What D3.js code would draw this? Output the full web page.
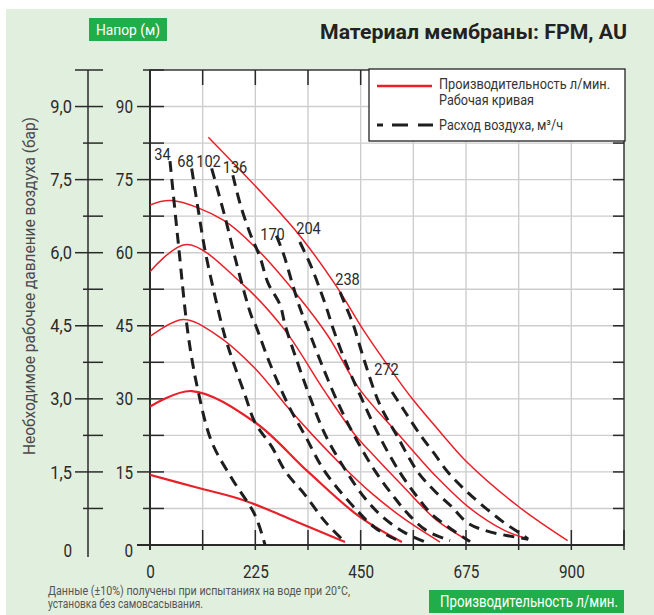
<!DOCTYPE html>
<html><head><meta charset="utf-8">
<script src="https://cdn.jsdelivr.net/npm/d3@7"></script>
<style>
html,body{margin:0;padding:0;background:#fff;}
svg{display:block;}
text{font-family:Roboto,"Liberation Sans",sans-serif;}
</style></head><body>
<svg id="chart" width="654" height="615"></svg>
<script>
// ---------- texts ----------
const titleText = "Материал мембраны: FPM, AU";
const headLabel = "Напор (м)";
const flowLabel = "Производительность л/мин.";
const yTitle = "Необходимое рабочее давление воздуха (бар)";
const legendPerf = ["Производительность л/мин.", "Рабочая кривая"];
const legendAir = "Расход воздуха, м³/ч";
const noteLines = ["Данные (±10%) получены при испытаниях на воде при 20°C,", "установка без самовсасывания."];

// ---------- axes ----------
const xTicks = [0, 225, 450, 675, 900];
const headTicks = [0, 15, 30, 45, 60, 75, 90];
const barTicks = ["0", "1,5", "3,0", "4,5", "6,0", "7,5", "9,0"];

// ---------- performance curves [flow l/min, head m] ----------
const perf1 = [[0,14.4],[100,11.8],[200,9.2],[300,5.3],[416.6,0.6]];
const perf2 = [[0,28.4],[89,31.6],[224,25.2],[338,15.0],[449,5.7],[538,0.6]];
const perf3 = [[0,42.8],[71,46.3],[142.5,43.1],[224,36.3],[295.5,28.1],[348,22.5],[416.6,15.7],[470,10.9],[541,5.5],[619.5,0.6]];
const perf4 = [[0,56.1],[78,61.7],[196,53.7],[288,44.1],[370,32],[438,22.6],[470,19.2],[541,12],[612,5.1],[683.6,0.7]];
const perf5 = [[0,69.8],[46,70.7],[156.6,66.7],[231,60.5],[317,51],[381,42.8],[446,32.2],[533,22.5],[612,14],[684,7.5],[755,3.1],[808,1.2]];
const perf6 = [[124.6,83.7],[313,64.3],[399,53],[456,44.1],[530,33.9],[562,29.8],[626,22.5],[673,17.4],[787,7.9],[892,0.9]];

// ---------- air consumption curves (m³/h) [flow l/min, head m] ----------
const airLabels = ["34","68","102","136","170","204","238","272"];
const airLabelAt = [[26.7,79.0],[75.8,77.6],[125,77.6],[181.6,76.4],[261.7,62.6],[338.6,63.8],[421.9,53.4],[505.2,34.9]];
const air34  = [[42.7,78.8],[60.5,61.9],[82,42.8],[103,31.5],[131.7,21.2],[174.5,13.7],[224,6.2],[245.7,0]];
const air68  = [[89,77.3],[103,68.8],[117.5,60.5],[139,51],[160,42.8],[178,37.5],[203,30.8],[224,25.2],[260,20.2],[290,15.0],[331,10.3],[374,4.8],[416.6,0.6]];
const air102 = [[131.7,77.3],[160,67.4],[188.6,56.4],[217,46.9],[226,45],[255,37.5],[295.5,28.7],[331,22.5],[374,15],[445,6.8],[480,3.6],[515,1.6],[537.7,0.6]];
const air136 = [[177,75.9],[192,70.2],[213.6,64],[235,59.1],[252,53.8],[277.7,49.3],[289,45],[315,37.5],[343,30],[375,22.5],[420,15],[460,9.5],[500,5.5],[545,2.5],[591,0.5]];
const air170 = [[270,63.5],[286,59.5],[303,54],[319,49],[335,45],[365,37.5],[400,29.5],[436,22.5],[482,15],[520,10],[550,6.5],[590,3],[641,0.9]];
const air204 = [[320,62.2],[342,57.7],[363,52.5],[380,47.8],[389,45],[418,37.5],[450,30.5],[489,22.5],[533,15],[570,10],[600,6.5],[640,3.5],[683.6,0.7]];
const air238 = [[406,51.9],[427,47],[435,45],[459,37.5],[490,29],[527,22.5],[572,15],[607,11.2],[643,8],[679,4.5],[726,2.7],[808,1.2]];
const air272 = [[517,31.4],[545,27.3],[578,22.5],[604.6,19.1],[636,15.0],[670.8,11.5],[709.2,8.2],[752,4.9],[794.7,2.1],[807.5,1.2]];

const perfSeries = [perf1, perf2, perf3, perf4, perf5, perf6];
const airSeries = [air34, air68, air102, air136, air170, air204, air238, air272];

// ---------- layout ----------
const W = 654, H = 615;
const plot = {left:150, right:624, top:70, bottom:545};
const xMax = 1012.5, yMax = 97.5, xStep = 112.5, yStep = 7.5;

const svg = d3.select("#chart");
const x = d3.scaleLinear().domain([0, xMax]).range([plot.left, plot.right]);
const y = d3.scaleLinear().domain([0, yMax]).range([plot.bottom, plot.top]);

const green = "#22ad4b", bg = "#e1efdf", red = "#e8202a", ink = "#1e1e1e", axisInk = "#2a2a2a";

// background
svg.append("rect").attr("x",6).attr("y",9).attr("width",W-6).attr("height",H-9).attr("fill",bg);
svg.append("rect").attr("x",plot.left).attr("y",plot.top)
  .attr("width",plot.right-plot.left).attr("height",plot.bottom-plot.top).attr("fill","#fff");

// grid
const xGrid = d3.range(xStep, xMax - 1, xStep);
const yGrid = d3.range(yStep, yMax - 1, yStep);
const g = svg.append("g");
g.selectAll(".vg").data(xGrid).join("line")
  .attr("x1",d=>x(d)).attr("x2",d=>x(d)).attr("y1",plot.top).attr("y2",plot.bottom)
  .attr("stroke","#cdcdcd").attr("stroke-width",1.4);
g.selectAll(".hg").data(yGrid).join("line")
  .attr("y1",d=>y(d)).attr("y2",d=>y(d)).attr("x1",plot.left).attr("x2",plot.right)
  .attr("stroke","#cdcdcd").attr("stroke-width",1.4);

// tick marks
const tk = svg.append("g").attr("stroke",axisInk).attr("stroke-width",1.5);
tk.selectAll(".tt").data(xGrid).join("line")
  .attr("x1",d=>x(d)).attr("x2",d=>x(d)).attr("y1",plot.top).attr("y2",plot.top+15);
tk.selectAll(".bt").data(d3.range(xStep, xMax + 1, xStep)).join("line")
  .attr("x1",d=>x(d)).attr("x2",d=>x(d)).attr("y1",plot.bottom-15).attr("y2",plot.bottom+5);
tk.selectAll(".rt").data(yGrid).join("line")
  .attr("y1",d=>y(d)).attr("y2",d=>y(d)).attr("x1",plot.right-11).attr("x2",plot.right);
tk.selectAll(".lt").data(d3.range(yStep, yMax + 1, yStep)).join("line")
  .attr("y1",d=>y(d)).attr("y2",d=>y(d))
  .attr("x1",d=> d % 15 === 0 ? plot.left-13 : plot.left-7).attr("x2",plot.left+14);
// bar axis
const barX = 88;
tk.append("line").attr("x1",barX).attr("x2",barX).attr("y1",plot.top).attr("y2",plot.bottom+12);
tk.selectAll(".bar").data(d3.range(yStep, yMax + 1, yStep)).join("line")
  .attr("y1",d=>y(d)).attr("y2",d=>y(d))
  .attr("x1",d=> (d % 15 === 0 || d === yMax) ? barX-13 : barX-5).attr("x2",barX+15);

// frame
svg.append("rect").attr("x",plot.left).attr("y",plot.top)
  .attr("width",plot.right-plot.left).attr("height",plot.bottom-plot.top)
  .attr("fill","none").attr("stroke",axisInk).attr("stroke-width",1.4);
svg.append("line").attr("x1",plot.left-13).attr("x2",plot.right).attr("y1",plot.bottom).attr("y2",plot.bottom)
  .attr("stroke",axisInk).attr("stroke-width",2);
svg.append("line").attr("x1",plot.left).attr("x2",plot.left).attr("y1",plot.top).attr("y2",plot.bottom+5)
  .attr("stroke",axisInk).attr("stroke-width",2);

// axis labels via d3 axes
const digitW = 8.6, commaW = 4.5;
const tl = s => s.replace(/[^0-9]/g,"").length*digitW + s.replace(/[0-9]/g,"").length*commaW;

const xAxis = d3.axisBottom(x).tickValues(xTicks).tickSize(0).tickPadding(20).tickFormat(d3.format("d"));
const xa = svg.append("g").attr("transform",`translate(0,${plot.bottom})`).call(xAxis);
xa.select(".domain").remove();
xa.selectAll("text").attr("font-size",18).attr("fill","#2a2a2a").attr("font-family","Roboto")
  .attr("textLength",d=>tl(String(d))).attr("lengthAdjust","spacingAndGlyphs");

const yAxis = d3.axisLeft(y).tickValues(headTicks).tickSize(0).tickPadding(plot.left-133).tickFormat(d3.format("d"));
const ya = svg.append("g").attr("transform",`translate(${plot.left},0)`).call(yAxis);
ya.select(".domain").remove();
ya.selectAll("text").attr("font-size",18).attr("fill","#2a2a2a").attr("font-family","Roboto")
  .attr("dy", (d)=> d === 0 ? "0.62em" : "0.34em")
  .attr("textLength",d=>tl(String(d))).attr("lengthAdjust","spacingAndGlyphs");

const barAxis = d3.axisLeft(y).tickValues(headTicks).tickSize(0).tickPadding(barX-72)
  .tickFormat((d,i)=>barTicks[i]);
const ba = svg.append("g").attr("transform",`translate(${barX},0)`).call(barAxis);
ba.select(".domain").remove();
ba.selectAll("text").attr("font-size",18).attr("fill","#2a2a2a").attr("font-family","Roboto")
  .attr("dy", (d)=> d === 0 ? "0.62em" : "0.34em")
  .attr("textLength",(d,i)=>tl(barTicks[i])).attr("lengthAdjust","spacingAndGlyphs");

// curves
svg.append("clipPath").attr("id","pc").append("rect")
  .attr("x",plot.left).attr("y",plot.top-2).attr("width",plot.right-plot.left).attr("height",plot.bottom-plot.top+2);
const line = d3.line().x(d=>x(d[0])).y(d=>y(d[1])).curve(d3.curveCatmullRom.alpha(0.5));
const curves = svg.append("g").attr("clip-path","url(#pc)");
curves.selectAll(".perf").data(perfSeries).join("path")
  .attr("d",line).attr("fill","none").attr("stroke",red)
  .attr("stroke-width",(d,i)=> i < 2 ? 2.2 : 1.5);
curves.selectAll(".air").data(airSeries).join("path")
  .attr("d",line).attr("fill","none").attr("stroke",ink)
  .attr("stroke-width",3).attr("stroke-dasharray","11,7");

// air labels
svg.selectAll(".alab").data(airLabelAt).join("text")
  .attr("x",d=>x(d[0])).attr("y",d=>y(d[1]))
  .attr("text-anchor","middle").attr("font-size",16).attr("fill","#2a2a2a")
  .attr("textLength",(d,i)=>airLabels[i].length*8.2).attr("lengthAdjust","spacingAndGlyphs")
  .text((d,i)=>airLabels[i]);

// legend
const lg = svg.append("g");
lg.append("rect").attr("x",369).attr("y",69).attr("width",256).attr("height",72)
  .attr("fill","#fff").attr("stroke","#222").attr("stroke-width",1.3);
lg.append("line").attr("x1",377).attr("x2",432).attr("y1",86).attr("y2",86)
  .attr("stroke",red).attr("stroke-width",2.6);
lg.append("line").attr("x1",377).attr("x2",433).attr("y1",125).attr("y2",125)
  .attr("stroke",ink).attr("stroke-width",3).attr("stroke-dasharray","6,9,16,10,15");
const legTxt = [[legendPerf[0], 89, 171, 14],[legendPerf[1], 105, 95, 14],[legendAir, 130, 124, 14.5]];
lg.selectAll(".lt").data(legTxt).join("text")
  .attr("x",439).attr("y",d=>d[1]).attr("font-size",d=>d[3]).attr("fill","#333")
  .attr("textLength",d=>d[2]).attr("lengthAdjust","spacingAndGlyphs").text(d=>d[0]);

// title
svg.append("text").attr("x",627).attr("y",39).attr("text-anchor","end")
  .attr("font-size",20).attr("font-weight","bold").attr("fill","#222")
  .attr("textLength",307).attr("lengthAdjust","spacingAndGlyphs").text(titleText);

// head label box
svg.append("rect").attr("x",89).attr("y",18).attr("width",78).attr("height",23).attr("fill",green);
svg.append("text").attr("x",96).attr("y",35).attr("font-size",15).attr("fill","#fff")
  .attr("textLength",64).attr("lengthAdjust","spacingAndGlyphs").text(headLabel);

// flow label box
svg.append("rect").attr("x",429).attr("y",590).attr("width",195).attr("height",23).attr("fill",green);
svg.append("text").attr("x",440).attr("y",607).attr("font-size",16).attr("fill","#fff")
  .attr("textLength",178).attr("lengthAdjust","spacingAndGlyphs").text(flowLabel);

// y title
svg.append("text").attr("transform","translate(35,286) rotate(-90)").attr("text-anchor","middle")
  .attr("font-size",16).attr("fill","#4a4a4a")
  .attr("textLength",338).attr("lengthAdjust","spacingAndGlyphs").text(yTitle);

// note
svg.selectAll(".note").data(noteLines).join("text")
  .attr("x",48).attr("y",(d,i)=>595 + i*13).attr("font-size",12).attr("fill","#555")
  .attr("textLength",(d,i)=> i === 0 ? 302 : 155).attr("lengthAdjust","spacingAndGlyphs")
  .text(d=>d);
</script>
</body></html>
